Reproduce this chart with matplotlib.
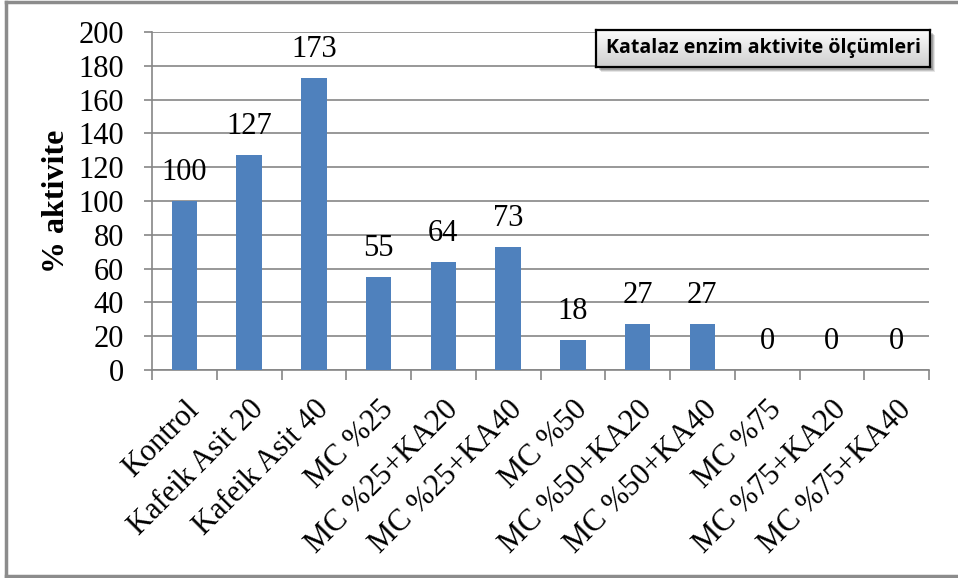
import numpy as np
import matplotlib.pyplot as plt
from matplotlib.lines import Line2D
from matplotlib.colors import LinearSegmentedColormap

categories = ["Kontrol", "Kafeik Asit 20", "Kafeik Asit 40", "MC %25",
              "MC %25+KA20", "MC %25+KA40", "MC %50", "MC %50+KA20",
              "MC %50+KA40", "MC %75", "MC %75+KA20", "MC %75+KA40"]
activity = [100, 127, 173, 55, 64, 73, 18, 27, 27, 0, 0, 0]
y_ticks = [0, 20, 40, 60, 80, 100, 120, 140, 160, 180, 200]

serif = "Liberation Serif"
grey = "#868686"
bar_color = "#4F81BD"
W, H = 958, 578

fig = plt.figure(figsize=(W / 100, H / 100), dpi=100)
ax = fig.add_axes([152 / W, 1 - 370 / H, 777 / W, 338 / H])

x = np.arange(len(categories))
ax.bar(x, activity, width=0.39, color=bar_color, zorder=3)

for xi, v in zip(x, activity):
    ax.annotate(f"{v}", (xi, v), xytext=(0, 10), textcoords="offset points",
                ha="center", va="bottom", fontsize=22, family=serif, zorder=4)

ax.set_xlim(-0.5, len(categories) - 0.5)
ax.set_ylim(0, 200)
ax.set_yticks(y_ticks)
ax.set_yticklabels([str(t) for t in y_ticks], family=serif, fontsize=22)
ax.yaxis.grid(True, color=grey, linewidth=1.2, zorder=0)

# category ticks sit between the bars
ax.set_xticks(np.arange(len(categories) + 1) - 0.5)
ax.set_xticklabels([])
ax.set_xticks(x, minor=True)
ax.set_xticklabels(categories, minor=True, rotation=45, ha="right",
                   rotation_mode="anchor", family=serif, fontsize=22)
ax.tick_params(axis="x", which="minor", length=0, pad=18)
ax.tick_params(axis="x", which="major", length=7, color=grey, width=1.2)
ax.tick_params(axis="y", length=6, color=grey, width=1.2, pad=14)

for side in ["top", "right"]:
    ax.spines[side].set_visible(False)
for side in ["left", "bottom"]:
    ax.spines[side].set_color(grey)
    ax.spines[side].set_linewidth(1.2)

ax.set_ylabel("% aktivite", family=serif, fontsize=23, fontweight="bold")
ax.yaxis.set_label_coords(-81 / 777, 0.5)

# title box: soft shadow, then a grey gradient panel with black edge
bx, by, bw, bh = 596, H - 67, 334, 37
for k, a in enumerate([0.10, 0.14, 0.18]):
    off = 5 - k
    sh = fig.add_axes([(bx + off) / W, (by - off) / H, bw / W, bh / H])
    sh.set_facecolor("black")
    sh.patch.set_alpha(a)
    sh.set_xticks([])
    sh.set_yticks([])
    for s in sh.spines.values():
        s.set_visible(False)

tb = fig.add_axes([bx / W, by / H, bw / W, bh / H])
grad = np.linspace(0, 1, 64).reshape(-1, 1)
tb.imshow(grad, aspect="auto",
          cmap=LinearSegmentedColormap.from_list("box", ["#fbfbfb", "#cfcfcf"]),
          extent=[0, 1, 0, 1], origin="upper")
tb.set_xticks([])
tb.set_yticks([])
for s in tb.spines.values():
    s.set_color("black")
    s.set_linewidth(1.6)
tb.text(0.5, 0.5, "Katalaz enzim aktivite ölçümleri", transform=tb.transAxes,
        ha="center", va="center", fontsize=14, fontweight="bold",
        family="Open Sans")

# outer chart border (left, top and bottom edges)
edge = dict(color="#8c8c8c", linewidth=2.5, transform=fig.transFigure)
fig.lines.append(Line2D([6 / W, 6 / W], [1 / H, 1 - 2 / H], **edge))
fig.lines.append(Line2D([6 / W, 1], [1 - 2 / H, 1 - 2 / H], **edge))
fig.lines.append(Line2D([6 / W, 1], [2 / H, 2 / H], **edge))

fig.savefig("out.png", dpi=100)
